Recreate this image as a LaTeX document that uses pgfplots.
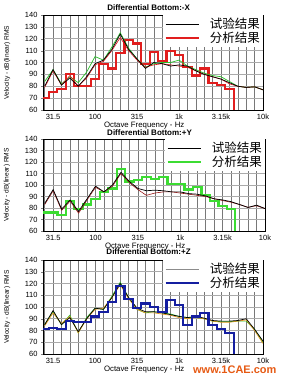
\documentclass[border=0pt]{standalone}
\usepackage{pgfplots}
\pgfplotsset{compat=1.18}
\usepackage{fontspec}
\setmainfont{Liberation Sans}
\newfontfamily\cjk{Noto Sans CJK SC}
\definecolor{gridv}{RGB}{120,120,120}
\definecolor{gridh}{RGB}{170,170,170}
\definecolor{stepred}{RGB}{225,30,30}
\definecolor{stepgreen}{RGB}{60,220,50}
\definecolor{stepblue}{RGB}{20,30,160}
\definecolor{thingreen}{RGB}{40,190,40}
\definecolor{thinred}{RGB}{220,20,20}
\definecolor{darkred}{RGB}{150,20,20}
\definecolor{thinorange}{RGB}{225,150,30}
\definecolor{testgrey}{RGB}{140,140,140}
\definecolor{wm}{RGB}{230,90,20}
\pgfplotsset{
  panel/.style={
    scale only axis, anchor=south west,
    xmin=-0.2, xmax=26, ymin=60, ymax=140,
    xtick={1,6,11,16,21,26}, xticklabels={31.5,100,315,1k,3.15k,10k},
    minor xtick={0,...,26},
    ytick={60,70,...,140},
    xmajorgrids, xminorgrids, ymajorgrids,
    major x grid style={gridv, line width=0.6pt},
    minor x grid style={gridv, line width=0.6pt},
    major y grid style={gridh, line width=0.6pt},
    axis line style={black, line width=0.6pt},
    tick align=outside, major tick length=2pt,
    major x tick style={draw=none}, minor x tick style={draw=none},
    ytick pos=left,
    /pgf/number format/assume math mode=true,
    tick label style={font=\fontsize{7.5}{8}\selectfont},
    xticklabel style={yshift=1.5pt},
    xlabel={Octave Frequency - Hz},
    xlabel style={font=\fontsize{7.8}{9}\selectfont, at={(axis description cs:0.46,-0.165)}, anchor=center},
    ylabel={Velocity - dB(linear) RMS},
    ylabel style={font=\fontsize{6.6}{7}\selectfont, at={(axis description cs:-0.163,0.5)}, anchor=center},
    title style={font=\bfseries\fontsize{8}{9}\selectfont, at={(axis description cs:0.48,1)}, anchor=center},
    legend style={at={(axis description cs:1,1)}, anchor=north east, fill=white, draw=none,
      inner xsep=1pt, inner ysep=1pt, font=\cjk\fontsize{12.5}{13}\selectfont,
      cells={anchor=west}, row sep=-2pt,
      /tikz/every odd column/.append style={column sep=8pt}},
    legend image code/.code={\draw[#1] (0pt,0pt) -- (33pt,0pt);},
  }
}
\begin{document}
\begin{tikzpicture}
\useasboundingbox (0,0) rectangle (282pt,377pt);
% ---------------- Panel 1: -X ----------------
\begin{axis}[panel, at={(43pt,267pt)}, width=220pt, height=95pt,
  title={Differential Bottom:-X}, title style={yshift=1.5pt}]
\addlegendimage{black, line width=0.8pt}
\addlegendentry{试验结果}
\addlegendimage{stepred, line width=2.4pt}
\addlegendentry{分析结果}
\addplot[stepred, line width=2.2pt, const plot mark mid, forget plot] table {
x y
-1 70
0 70
1 75
2 78
3 90
4 80
5 80
6 86
7 99
8 95
9 108
10 119
11 116
12 99
13 109
14 101
15 110
16 106
17 96
18 89
19 95
20 83
21 81
22 78
23 55
};
\addplot[thingreen, line width=0.7pt, forget plot] table {
x y
0 84
1 94
2 82
3 88
4 83
5 92
6 105
7 102
8 113
9 125
10 112
11 103
12 96
13 99
14 100
15 100
16 102
17 97
18 94
19 91
20 89
21 88
22 84
23 80
24 79
25 79.5
26 77
};
\addplot[thinred, line width=0.6pt, forget plot] table {
x y
0 79
1 93
2 81
3 89
4 80
5 87
6 98
7 101
8 110
9 121
10 110
11 102
12 96
13 98
14 99
15 98
16 97
17 96
18 93
19 90
20 88
21 86
22 82
23 80
24 79
25 79.5
26 77
};
\addplot[black, line width=0.7pt, forget plot] table {
x y
0 80
1 94
2 81
3 87
4 80
5 88
6 99
7 102
8 111
9 124
10 111
11 103
12 95
13 100
14 99
15 97
16 98
17 97
18 93
19 90
20 88
21 86
22 83
23 80
24 79
25 79.5
26 77
};
\end{axis}
% ---------------- Panel 2: +Y ----------------
\begin{axis}[panel, at={(43pt,146pt)}, width=222pt, height=92pt,
  title={Differential Bottom:+Y}, title style={yshift=0pt},
  xlabel style={at={(axis description cs:0.46,-0.165)}}]
\addlegendimage{black, line width=0.8pt}
\addlegendentry{试验结果}
\addlegendimage{stepgreen, line width=2.4pt}
\addlegendentry{分析结果}
\addplot[stepgreen, line width=2.2pt, const plot mark mid, forget plot] table {
x y
-1 76
0 76
1 76
2 74
3 86
4 79
5 83
6 88
7 94
8 97
9 114
10 103
11 104
12 107
13 105
14 107
15 101
16 101
17 96
18 98
19 91
20 86
21 82
22 79
23 55
};
\addplot[darkred, line width=0.6pt, forget plot] table {
x y
0 83
1 95
2 78
3 86
4 75.5
5 87
6 98
7 94
8 99
9 110
10 102
11 96
12 91
13 93
14 94
15 94
16 93
17 92
18 91
19 90
20 88
21 86.5
22 85
23 83
24 80.5
25 82
26 79.5
};
\addplot[black, line width=0.7pt, forget plot] table {
x y
0 84
1 96
2 79
3 87
4 77
5 88
6 99
7 94
8 100
9 111
10 103
11 97
12 95
13 95.5
14 95
15 94
16 94
17 92.5
18 92
19 90.5
20 88
21 87
22 85.5
23 83
24 80.5
25 82.5
26 79.5
};
\end{axis}
% ---------------- Panel 3: +Z ----------------
\begin{axis}[panel, at={(43pt,23pt)}, width=220pt, height=94pt,
  title={Differential Bottom:+Z}, title style={yshift=2pt},
  xlabel style={at={(axis description cs:0.46,-0.17)}}]
\addlegendimage{testgrey, line width=1.2pt}
\addlegendentry{试验结果}
\addlegendimage{stepblue, line width=2.4pt}
\addlegendentry{分析结果}
\addplot[thingreen, line width=0.7pt, forget plot] table {
x y
0 85
1 96
2 85
3 93
4 78
5 91
6 99
7 98
8 109
9 121
10 108
11 98
12 95
13 96
14 95
15 94
16 92
17 91
18 91
19 90
20 88
21 87.5
22 87.5
23 88
24 88
25 81
26 70
};
\addplot[thinorange, line width=0.7pt, forget plot] table {
x y
0 84
1 95
2 86
3 92
4 78
5 90
6 98
7 99
8 108
9 119
10 107
11 98
12 95
13 95
14 94
15 93
16 91
17 90
18 91
19 90
20 88
21 87
22 87
23 88
24 89
25 80
26 69
};
\addplot[black, line width=0.7pt, forget plot] table {
x y
0 85
1 97
2 85
3 91
4 79
5 90
6 99
7 98
8 108
9 120
10 108
11 99
12 96
13 96
14 95
15 93.5
16 92
17 91
18 92
19 90.5
20 88.5
21 88
22 88
23 88.5
24 90
25 81
26 71
};
\addplot[stepblue, line width=2.2pt, const plot mark mid, forget plot] table {
x y
-1 81
0 81
1 82
2 81
3 88
4 87
5 87
6 92
7 96
8 104
9 118
10 107
11 99
12 103
13 100
14 96
15 106
16 102
17 85
18 92
19 95
20 85
21 81
22 78
23 55
};
\end{axis}
\node[text=wm, font=\bfseries\fontsize{11}{12}\selectfont, anchor=east] at (280pt,7pt) {www.1CAE.com};
\end{tikzpicture}
\end{document}
